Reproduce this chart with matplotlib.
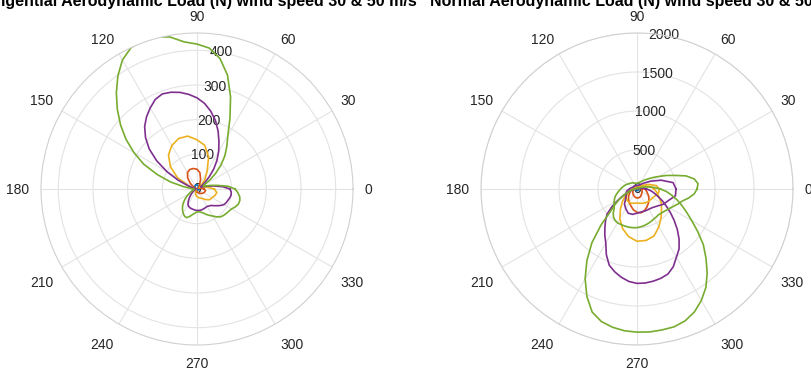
import numpy as np
import matplotlib
matplotlib.use('Agg')
import matplotlib.pyplot as plt

plt.rcParams['font.family'] = ['Liberation Sans', 'DejaVu Sans']

# azimuth (deg) of the load samples: coarse and fine sweeps
ang10 = np.arange(0, 360, 10)
ang5 = np.arange(0, 360, 5)
theta_ticks = np.arange(0, 360, 30)

# tangential aerodynamic load (N)
tan_blue = [5, 4, 3, 3, 4, 6, 8, 10, 11, 12, 12, 12, 11, 9, 7, 5, 4, 3,
            3, 3, 3, 3, 3, 3, 3, 3, 3, 3, 3, 3, 3, 3, 4, 4, 5, 5]
tan_red = [20, 12, 6, 4, 5, 8, 15, 30, 48, 57, 60, 60, 55, 42, 25, 10, 4, 3,
           2, 2, 2, 2, 3, 3, 4, 5, 6, 8, 10, 12, 15, 16, 20, 22, 24, 25]
tan_yellow = [50, 30, 15, 8, 15, 35, 58, 98, 128, 142, 155, 155, 145, 128, 100, 65, 25, 8,
              3, 3, 3, 4, 4, 5, 8, 12, 18, 22, 25, 28, 32, 40, 48, 50, 55, 58]
tan_purple = [95, 75, 50, 32, 20, 14, 12, 18, 30, 50, 75, 100, 125, 150, 178, 205, 228, 248,
              263, 274, 283, 289, 292, 285, 270, 254, 235, 210, 180, 142, 100, 60, 28, 12, 5, 3,
              3, 3, 3, 4, 5, 7, 10, 15, 20, 27, 35, 44, 52, 56, 58, 59, 60, 61,
              62, 62, 62, 61, 60, 59, 58, 60, 62, 68, 75, 83, 90, 93, 95, 98, 100, 99]
tan_green = [110, 90, 60, 40, 25, 20, 25, 45, 70, 98, 125, 150, 178, 225, 283, 340, 382, 408,
             418, 426, 445, 455, 456, 450, 430, 398, 362, 325, 288, 250, 210, 170, 122, 80, 40, 18,
             10, 8, 8, 10, 15, 20, 25, 35, 45, 55, 65, 73, 80, 86, 88, 82, 75, 70,
             66, 66, 68, 72, 78, 84, 90, 98, 105, 108, 110, 112, 115, 122, 127, 128, 125, 118]

# normal aerodynamic load (N), 50 m/s
nor_blue50 = [20, 20, 25, 30, 35, 40, 45, 45, 45, 45, 45, 45, 45, 45, 45, 40, 40, 35,
              30, 30, 25, 25, 20, 20, 20, 20, 20, 20, 20, 20, 20, 20, 20, 20, 20, 20]
nor_red50 = [100, 70, 40, 15, 15, 15, 15, 15, 15, 15, 15, 15, 15, 15, 15, 15, 15, 30,
             50, 70, 90, 110, 140, 170, 200, 230, 270, 300, 310, 290, 260, 230, 200, 170, 140, 120]
nor_yellow50 = [220, 180, 110, 60, 30, 15, 15, 15, 15, 15, 15, 15, 15, 15, 15, 15, 15, 15,
                40, 80, 130, 170, 240, 330, 440, 540, 620, 670, 670, 640, 560, 480, 410, 360, 300, 260]
nor_purple50 = [120, 90, 60, 42, 30, 20, 15, 12, 10, 9, 8, 8, 8, 8, 8, 8, 8, 8,
                8, 8, 8, 8, 8, 8, 8, 8, 8, 8, 8, 8, 8, 8, 8, 10, 15, 20,
                25, 40, 60, 90, 120, 190, 270, 390, 500, 570, 640, 720, 800, 930, 1040, 1100, 1150, 1190,
                1210, 1210, 1200, 1185, 1160, 1100, 1010, 940, 840, 730, 620, 520, 430, 360, 290, 240, 200, 160]
nor_green50 = [300, 220, 150, 100, 60, 40, 30, 20, 15, 12, 10, 10, 10, 10, 10, 10, 10, 10,
               10, 10, 10, 10, 10, 10, 10, 10, 10, 10, 10, 10, 10, 10, 12, 13, 15, 20,
               25, 40, 60, 90, 130, 190, 260, 340, 440, 650, 900, 1120, 1330, 1520, 1680, 1760, 1800, 1825,
               1835, 1840, 1835, 1830, 1800, 1740, 1650, 1540, 1400, 1250, 1110, 950, 810, 700, 610, 530, 450, 380]

# normal aerodynamic load (N), 30 m/s
nor_blue30 = [10, 10, 12, 14, 16, 18, 20, 20, 20, 20, 20, 20, 20, 18, 16, 15, 14, 12,
              12, 10, 10, 10, 10, 10, 10, 10, 10, 10, 10, 10, 10, 10, 10, 10, 10, 10]
nor_red30 = [60, 40, 25, 10, 10, 10, 10, 10, 10, 10, 10, 10, 10, 10, 10, 10, 10, 20,
             30, 40, 50, 60, 70, 80, 90, 100, 110, 115, 115, 110, 100, 90, 80, 75, 70, 65]
nor_yellow30 = [290, 250, 170, 100, 60, 30, 30, 30, 30, 30, 30, 30, 30, 30, 30, 30, 30, 40,
                60, 90, 120, 150, 180, 195, 200, 195, 185, 180, 185, 195, 205, 215, 220, 230, 250, 280]
nor_purple30 = [500, 470, 330, 200, 120, 80, 60, 50, 45, 45, 45, 45, 50, 50, 55, 55, 60, 80,
                100, 130, 150, 160, 190, 250, 290, 330, 330, 310, 300, 300, 300, 310, 340, 390, 430, 500]
nor_green30 = [770, 785, 745, 650, 510, 410, 320, 260, 210, 175, 150, 128, 110, 100, 90, 85, 80, 77,
               75, 75, 75, 77, 80, 85, 90, 95, 100, 108, 115, 122, 130, 142, 155, 168, 180, 195,
               210, 230, 250, 275, 300, 320, 340, 360, 380, 430, 470, 490, 500, 500, 500, 500, 500, 498,
               495, 488, 480, 470, 460, 450, 440, 435, 430, 438, 450, 468, 490, 520, 560, 600, 670, 735]

colors = ['#0072BD', '#D95319', '#EDB120', '#7E2F8E', '#77AC30']
grid_col = '#e3e3e3'
txt_col = '#262626'


def closed(vals):
    a = ang5 if len(vals) == len(ang5) else ang10
    th = np.deg2rad(np.append(a, a[0] + 360))
    r = np.append(vals, vals[0])
    return th, r


def style_polar(ax, rmax, rticks):
    ax.set_ylim(0, rmax)
    ax.set_yticks(rticks)
    ax.set_yticklabels([str(t) for t in rticks])
    ax.set_rlabel_position(80)
    ax.set_thetagrids(theta_ticks, [''] * len(theta_ticks))
    ax.grid(True, color=grid_col, lw=0.8)
    ax.spines['polar'].set_color('#d0d0d0')
    ax.spines['polar'].set_linewidth(0.8)
    ax.tick_params(axis='x', length=0)
    ax.tick_params(axis='y', labelsize=10, colors=txt_col)
    for lab in ax.get_yticklabels():
        lab.set_horizontalalignment('center')
        lab.set_verticalalignment('center')
    # angle labels just outside the rim, anchored on their inner edge
    for a in theta_ticks:
        ca, sa = np.cos(np.deg2rad(a)), np.sin(np.deg2rad(a))
        ha = 'left' if ca > 0.1 else ('right' if ca < -0.1 else 'center')
        va = 'bottom' if sa > 0.1 else ('top' if sa < -0.1 else 'center')
        if va == 'center':
            off = (8.5 * ca, -0.6)
        elif ha == 'center' and va == 'top':
            off = (0, -8.5)
        else:
            off = (7.3 * ca, 8.5 * sa - 2.3)
        ax.annotate(str(a), xy=(np.deg2rad(a), rmax), xytext=off,
                    textcoords='offset points', ha=ha, va=va, fontsize=10,
                    color=txt_col, annotation_clip=False)


fig = plt.figure(figsize=(8.11, 3.71), dpi=100)
W, H = 811, 371
R = 156

axL = fig.add_axes([(197 - R) / W, (H - 189 - R) / H, 2 * R / W, 2 * R / H], projection='polar')
axR = fig.add_axes([(637 - R) / W, (H - 189 - R) / H, 2 * R / W, 2 * R / H], projection='polar')

for c, vals in zip(colors, [tan_blue, tan_red, tan_yellow, tan_purple, tan_green]):
    axL.plot(*closed(vals), color=c, lw=1.2)
style_polar(axL, 450, [0, 100, 200, 300, 400])

for c, v30, v50 in zip(colors,
                       [nor_blue30, nor_red30, nor_yellow30, nor_purple30, nor_green30],
                       [nor_blue50, nor_red50, nor_yellow50, nor_purple50, nor_green50]):
    axR.plot(*closed(v30), color=c, lw=1.2)
    axR.plot(*closed(v50), color=c, lw=1.2)
style_polar(axR, 2000, [0, 500, 1000, 1500, 2000])

fig.text(197 / W, 1 - 6 / H, 'Tangential Aerodynamic Load (N) wind speed 30 & 50 m/s',
         ha='center', va='baseline', fontsize=11.5, fontweight='bold', color='black')
fig.text(637 / W, 1 - 6 / H, 'Normal Aerodynamic Load (N) wind speed 30 & 50 m/s',
         ha='center', va='baseline', fontsize=11.5, fontweight='bold', color='black')

fig.savefig('out.png', dpi=100)
